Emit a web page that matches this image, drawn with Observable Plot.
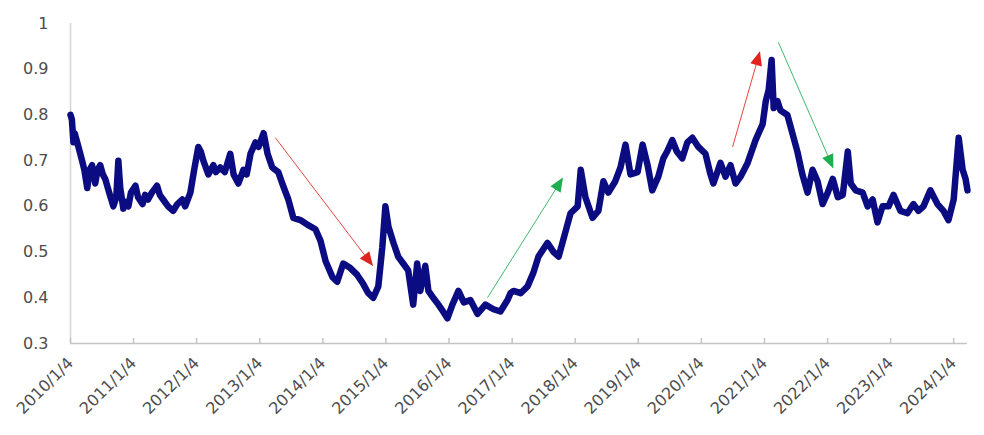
<!DOCTYPE html>
<html>
<head>
<meta charset="utf-8">
<script src="https://cdn.jsdelivr.net/npm/d3@7"></script>
<script src="https://cdn.jsdelivr.net/npm/@observablehq/plot@0.6"></script>
<style>
  html, body { margin: 0; padding: 0; background: #ffffff; }
  #chart svg { display: block; }
</style>
</head>
<body>
<div id="chart"></div>
<script>
// ---------- data ----------
const dates = [
  "2010-01-04","2010-01-12","2010-01-21","2010-01-28","2010-02-19","2010-03-12","2010-03-25","2010-04-11","2010-04-25","2010-05-09",
  "2010-05-27","2010-06-10","2010-06-25","2010-07-10","2010-07-24","2010-08-16","2010-09-09","2010-09-26","2010-10-08","2010-10-19",
  "2010-11-06","2010-11-20","2010-12-05","2010-12-20","2011-01-15","2011-01-30","2011-02-25","2011-03-12","2011-03-29","2011-04-20",
  "2011-05-20","2011-06-05","2011-06-24","2011-07-23","2011-08-21","2011-09-15","2011-10-13","2011-10-30","2011-11-29","2011-12-21",
  "2012-01-14","2012-01-28","2012-02-12","2012-03-12","2012-04-10","2012-04-25","2012-05-20","2012-06-15","2012-07-17","2012-08-05",
  "2012-09-02","2012-10-01","2012-10-20","2012-11-11","2012-12-10","2012-12-28","2013-01-26","2013-02-18","2013-03-17","2013-04-21",
  "2013-05-14","2013-06-18","2013-07-17","2013-08-27","2013-10-06","2013-11-22","2013-12-21","2014-01-20","2014-03-01","2014-03-28",
  "2014-05-02","2014-06-12","2014-07-22","2014-08-26","2014-09-24","2014-10-23","2014-11-21","2014-12-14","2015-01-01","2015-01-19",
  "2015-02-17","2015-03-16","2015-04-14","2015-05-13","2015-06-11","2015-07-04","2015-07-22","2015-08-20","2015-09-07","2015-10-05",
  "2015-11-04","2015-12-01","2015-12-26","2016-01-24","2016-02-28","2016-03-30","2016-05-07","2016-06-17","2016-08-02","2016-09-18",
  "2016-10-28","2016-12-08","2016-12-25","2017-01-12","2017-02-22","2017-04-03","2017-05-07","2017-06-05","2017-07-27","2017-09-01",
  "2017-09-30","2017-11-09","2017-12-08","2018-01-18","2018-02-05","2018-03-04","2018-04-14","2018-05-18","2018-06-16","2018-07-15",
  "2018-08-24","2018-09-23","2018-10-22","2018-11-20","2018-12-31","2019-01-29","2019-02-27","2019-03-26","2019-04-30","2019-05-29",
  "2019-06-20","2019-07-20","2019-08-15","2019-09-16","2019-10-15","2019-11-13","2019-12-18","2020-01-28","2020-02-26","2020-03-14",
  "2020-04-24","2020-05-23","2020-06-21","2020-07-20","2020-08-18","2020-09-28","2020-11-13","2020-12-24","2021-01-11","2021-01-28",
  "2021-02-14","2021-02-26","2021-03-20","2021-04-06","2021-05-16","2021-06-14","2021-07-13","2021-08-11","2021-09-10","2021-10-09",
  "2021-11-07","2021-12-06","2022-01-05","2022-02-03","2022-03-04","2022-04-02","2022-05-01","2022-05-18","2022-06-16","2022-07-26",
  "2022-08-24","2022-09-22","2022-10-20","2022-11-18","2022-12-23","2023-01-21","2023-03-02","2023-04-11","2023-05-16","2023-06-14",
  "2023-07-13","2023-08-22","2023-10-02","2023-11-06","2023-12-05","2024-01-04","2024-02-02","2024-02-25","2024-03-13","2024-03-24"
];
const values = [
  0.80,0.79,0.74,0.76,0.73,0.70,0.68,0.64,0.68,0.69,
  0.65,0.68,0.69,0.67,0.66,0.63,0.60,0.62,0.70,0.64,
  0.595,0.61,0.60,0.63,0.645,0.62,0.605,0.625,0.615,0.63,
  0.645,0.625,0.615,0.60,0.59,0.605,0.615,0.60,0.63,0.68,
  0.73,0.72,0.70,0.67,0.69,0.675,0.685,0.675,0.715,0.67,
  0.65,0.68,0.67,0.715,0.74,0.73,0.76,0.715,0.685,0.675,
  0.65,0.615,0.575,0.57,0.56,0.55,0.525,0.48,0.445,0.435,
  0.475,0.465,0.45,0.43,0.41,0.40,0.425,0.51,0.60,0.555,
  0.52,0.49,0.475,0.46,0.385,0.475,0.415,0.47,0.415,0.40,
  0.385,0.37,0.355,0.385,0.415,0.39,0.395,0.365,0.385,0.375,
  0.37,0.395,0.41,0.415,0.41,0.425,0.455,0.49,0.52,0.50,
  0.49,0.545,0.585,0.60,0.68,0.62,0.575,0.59,0.655,0.63,
  0.655,0.685,0.735,0.67,0.675,0.735,0.69,0.635,0.665,0.705,
  0.72,0.745,0.72,0.705,0.74,0.75,0.73,0.715,0.67,0.65,
  0.695,0.665,0.69,0.65,0.665,0.695,0.745,0.78,0.83,0.855,
  0.92,0.815,0.83,0.81,0.80,0.76,0.72,0.67,0.63,0.68,
  0.655,0.605,0.63,0.66,0.62,0.625,0.72,0.65,0.635,0.63,
  0.60,0.615,0.565,0.60,0.60,0.625,0.59,0.585,0.605,0.59,
  0.60,0.635,0.605,0.59,0.57,0.615,0.75,0.68,0.66,0.635
];
const xStart = "2010-01-04";
const xEnd = "2024-03-24";
const xTickDates = [
  "2010-01-04","2011-01-04","2012-01-04","2013-01-04","2014-01-04","2015-01-04","2016-01-04",
  "2017-01-04","2018-01-04","2019-01-04","2020-01-04","2021-01-04","2022-01-04","2023-01-04","2024-01-04"
];
const yTicks = [0.3, 0.4, 0.5, 0.6, 0.7, 0.8, 0.9, 1.0];

// trend arrows: start date/value -> end date/value
const redArrowStartDates = ["2013-04-04", "2020-07-03"];
const redArrowStartValues = [0.75, 0.73];
const redArrowEndDates = ["2014-10-18", "2020-12-07"];
const redArrowEndValues = [0.471, 0.937];
const greenArrowStartDates = ["2016-08-14", "2021-03-25"];
const greenArrowStartValues = [0.40, 0.959];
const greenArrowEndDates = ["2017-10-22", "2022-02-04"];
const greenArrowEndValues = [0.661, 0.685];

// ---------- build ----------
const parse = d3.utcParse("%Y-%m-%d");
const series = dates.map((d, i) => ({date: parse(d), value: values[i]}));
const xTicks = xTickDates.map(parse);
const fmtDate = d => `${d.getUTCFullYear()}/${d.getUTCMonth() + 1}/${d.getUTCDate()}`;
const makeArrows = (sd, sv, ed, ev) => sd.map((d, i) => ({x1: parse(d), y1: sv[i], x2: parse(ed[i]), y2: ev[i]}));
const redArrows = makeArrows(redArrowStartDates, redArrowStartValues, redArrowEndDates, redArrowEndValues);
const greenArrows = makeArrows(greenArrowStartDates, greenArrowStartValues, greenArrowEndDates, greenArrowEndValues);

function headMarker(color, context) {
  const doc = (context && context.document) || document;
  const ns = "http://www.w3.org/2000/svg";
  const m = doc.createElementNS(ns, "marker");
  m.setAttribute("viewBox", "-14 -7 16 14");
  m.setAttribute("markerWidth", "16");
  m.setAttribute("markerHeight", "14");
  m.setAttribute("markerUnits", "userSpaceOnUse");
  m.setAttribute("orient", "auto");
  m.setAttribute("refX", "0");
  m.setAttribute("refY", "0");
  const p = doc.createElementNS(ns, "path");
  p.setAttribute("d", "M-13,-6L1,0L-13,6Z");
  p.setAttribute("fill", color);
  p.setAttribute("stroke", "none");
  m.appendChild(p);
  return m;
}

const chart = Plot.plot({
  width: 984,
  height: 435,
  marginLeft: 70,
  marginRight: 17,
  marginTop: 23,
  marginBottom: 92,
  style: {fontFamily: "'DejaVu Sans', sans-serif", fontSize: "16px", color: "#4d4d4d", background: "#ffffff"},
  x: {
    type: "utc",
    domain: [parse(xStart), parse(xEnd)],
    ticks: xTicks,
    tickFormat: fmtDate,
    tickRotate: -45,
    tickSize: 0,
    tickPadding: 17,
    label: null
  },
  y: {
    domain: [0.3, 1],
    ticks: yTicks,
    tickFormat: d => `${+d.toFixed(1)}`,
    tickSize: 0,
    tickPadding: 22,
    label: null
  },
  marks: [
    Plot.ruleX([parse(xStart)], {stroke: "#d4d4d4", strokeWidth: 1.5}),
    Plot.ruleY([0.3], {stroke: "#c4c4c4", strokeWidth: 1.5}),
    Plot.ruleX(xTicks, {y1: 0.3, y2: 0.311, stroke: "#c4c4c4", strokeWidth: 1.5}),
    Plot.lineY(series, {x: "date", y: "value", stroke: "#0c0c82", strokeWidth: 6.5, strokeLinejoin: "round", strokeLinecap: "round"}),
    Plot.link(redArrows, {x1: "x1", y1: "y1", x2: "x2", y2: "y2", stroke: "#e0231e", strokeWidth: 1, strokeOpacity: 0.85, markerEnd: headMarker}),
    Plot.link(greenArrows, {x1: "x1", y1: "y1", x2: "x2", y2: "y2", stroke: "#1fae50", strokeWidth: 1, strokeOpacity: 0.85, markerEnd: headMarker})
  ]
});
document.getElementById("chart").appendChild(chart);
</script>
</body>
</html>
